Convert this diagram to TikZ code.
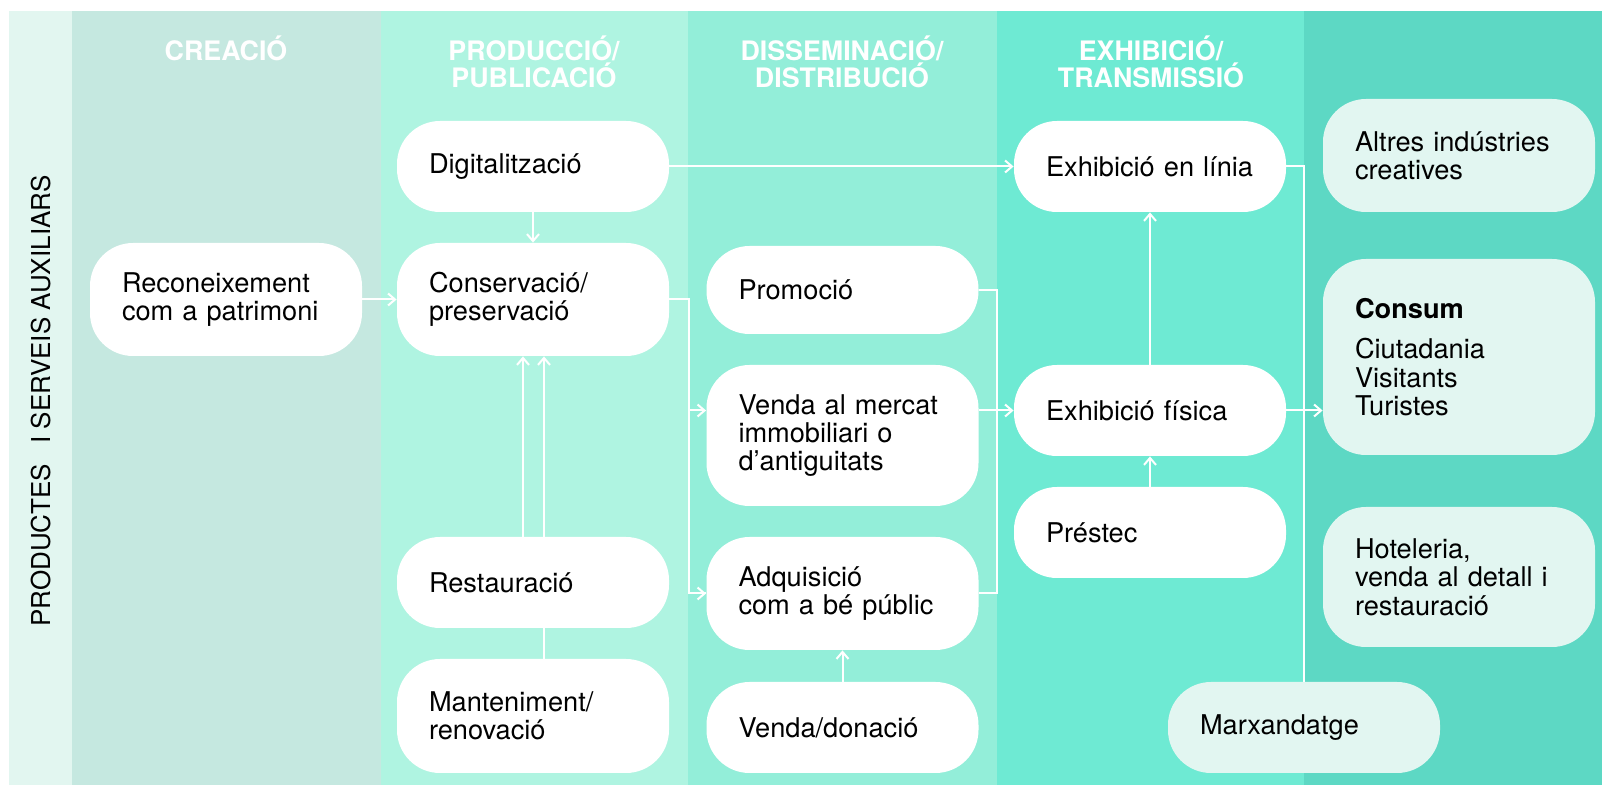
\documentclass[tikz,border=0pt]{standalone}
\usepackage{fontspec}
\setmainfont{TeX Gyre Heros}
\definecolor{pcStrip}{HTML}{E2F6F0}
\definecolor{pcCreacio}{HTML}{C5E8E0}
\definecolor{pcProd}{HTML}{AFF4E1}
\definecolor{pcDiss}{HTML}{93EED9}
\definecolor{pcExhib}{HTML}{6EEAD3}
\definecolor{pcCons}{HTML}{5DD8C4}
\definecolor{pcSoft}{HTML}{E2F6F1}
\usepackage{tikz}
\usetikzlibrary{arrows.meta}

\begin{document}
\begin{tikzpicture}[x=0.5pt, y=-0.5pt,
    stage/.style={fill=white, rounded corners=21.5pt, minimum width=136pt, text width=104pt,
      inner xsep=16pt, align=left, font=\fontsize{13.6}{14.2}\selectfont},
    soft/.style={stage, fill=pcSoft},
    head/.style={text=white, align=center, font=\fontsize{13.4}{13.5}\selectfont\bfseries},
    wire/.style={draw=white, line width=1pt},
    link/.style={wire, -{Straight Barb[length=3.5pt,width=6pt]}}]
  % page and column bands
  \fill[white] (0,0) rectangle (1602,785);
  \fill[pcStrip] (9,11) rectangle (72,785);
  \fill[pcCreacio] (72,11) rectangle (381,785);
  \fill[pcProd] (381,11) rectangle (688,785);
  \fill[pcDiss] (688,11) rectangle (997,785);
  \fill[pcExhib] (997,11) rectangle (1304,785);
  \fill[pcCons] (1304,11) rectangle (1602,785);
  % headings
  \node[rotate=90, font=\fontsize{13}{14}\selectfont] (side) at (41,401) {PRODUCTES\hspace{0.5em} I SERVEIS AUXILIARS};
  \node[head] (hCreacio) at (226,48) {CREACIÓ};
  \node[head] (hProd) at (534,61.5) {PRODUCCIÓ/\\PUBLICACIÓ};
  \node[head] (hDiss) at (842,61.5) {DISSEMINACIÓ/\\DISTRIBUCIÓ};
  \node[head] (hExhib) at (1151,61.5) {EXHIBICIÓ/\\TRANSMISSIÓ};
  % stages
  \node[stage, minimum height=56.5pt] (recon) at (226,299.5) {Reconeixement\\com a patrimoni};
  \node[stage, minimum height=45.5pt] (digit) at (533,166.5) {Digitalització};
  \node[stage, minimum height=56.5pt] (conserv) at (533,299.5) {Conservació/\\preservació};
  \node[stage, minimum height=45.5pt] (restaur) at (533,582.5) {Restauració};
  \node[stage, minimum height=57pt] (mant) at (533,716) {Manteniment/\\renovació};
  \node[stage, minimum height=44pt] (promo) at (842.5,290) {Promoció};
  \node[stage, minimum height=70.5pt] (venda) at (842.5,435.5) {Venda al mercat\\immobiliari o\\d’antiguitats};
  \node[stage, minimum height=56.5pt] (adq) at (842.5,593.5) {Adquisició\\com a bé públic};
  \node[stage, minimum height=45.5pt] (vdon) at (842.5,727.5) {Venda/donació};
  \node[stage, minimum height=45.5pt] (exlin) at (1150,166.5) {Exhibició en línia};
  \node[stage, minimum height=45.5pt] (exfis) at (1150,410.5) {Exhibició física};
  \node[stage, minimum height=45.5pt] (prest) at (1150,532.5) {Préstec};
  % consumption side
  \node[soft, minimum height=56.5pt] (altres) at (1459,155.5) {Altres indústries\\creatives};
  \node[soft, minimum height=98pt] (consum) at (1459,357) {\textbf{Consum}\\[6pt]Ciutadania\\Visitants\\Turistes};
  \node[soft, minimum height=70pt] (hotel) at (1459,577) {Hoteleria,\\venda al detall i\\restauració};
  \node[soft, minimum height=45.5pt] (marx) at (1304,727.5) {Marxandatge};
  % junction columns
  \coordinate (jProd) at (689,0);
  \coordinate (jDiss) at (997,0);
  \coordinate (rL) at (523,0);
  \coordinate (rR) at (544,0);
  % connectors
  \draw[link] (recon) -- (conserv);
  \draw[link] (digit.south) -- (digit.south |- conserv.north);
  \draw[link] (digit) -- (exlin);
  \draw[wire] (conserv.east) -| (jProd |- adq) -- (adq.west);
  \draw[link] (jProd |- adq) -- (adq.west);
  \draw[link] (jProd |- exfis) -- (venda.west |- exfis);
  \draw[link] (rL |- restaur.north) -- (rL |- conserv.south);
  \draw[link] (rR |- restaur.north) -- (rR |- conserv.south);
  \draw[wire] (rR |- mant.north) -- (rR |- restaur.south);
  \draw[wire] (promo.east) -| (jDiss |- adq) -- (adq.east);
  \draw[link] (venda.east |- exfis) -- (exfis.west);
  \draw[link] (vdon) -- (adq);
  \draw[link] (prest) -- (exfis);
  \draw[link] (exfis) -- (exlin);
  \draw[wire] (exlin.east) -| (marx.north);
  \draw[link] (exfis.east) -- (consum.west |- exfis);
\end{tikzpicture}
\end{document}
